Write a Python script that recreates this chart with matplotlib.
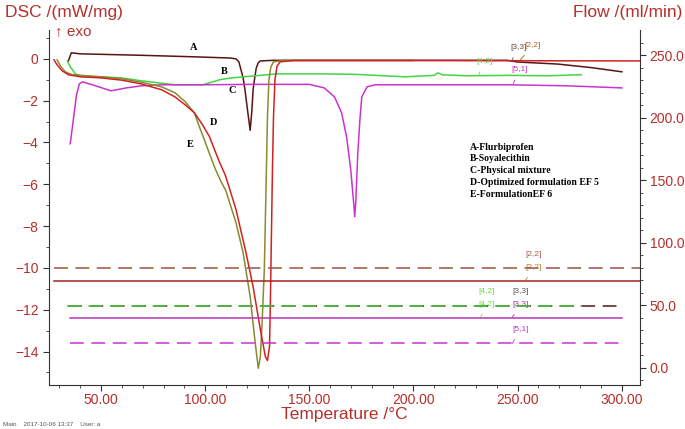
import matplotlib.pyplot as plt

plt.rcParams['font.family'] = ['Liberation Sans', 'DejaVu Sans']

# DSC curves (temperature in C, DSC in mW/mg)
a_t = [34.3, 35.7, 40.0, 69.4, 93.8, 112.0, 114.8, 116.2, 117.2, 118.2, 119.1, 120.4,
       121.6, 122.4, 123.0, 123.8, 124.5, 125.5, 126.5, 132.8, 245.0, 250.0, 269.4,
       285.5, 300.1]
a_dsc = [-0.10, 0.29, 0.24, 0.17, 0.10, 0.04, 0.00, -0.15, -0.53, -0.90, -1.48, -2.50,
         -3.42, -2.50, -1.48, -0.90, -0.45, -0.18, -0.10, -0.07, -0.07, -0.15, -0.25,
         -0.42, -0.62]

b_t = [33.8, 35.2, 37.7, 40.1, 59.6, 69.4, 85.5, 98.7, 103.0, 107.0, 112.0, 118.2,
       134.3, 155.7, 171.8, 196.0, 206.0, 209.9, 211.8, 213.8, 225.5, 245.0, 264.5, 280.6]
b_dsc = [-0.10, -0.38, -0.72, -0.81, -0.91, -1.05, -1.24, -1.24, -1.12, -1.00, -0.92, -0.86,
         -0.72, -0.72, -0.74, -0.86, -0.81, -0.79, -0.67, -0.76, -0.81, -0.79, -0.81, -0.76]

c_t = [35.2, 36.7, 38.2, 39.6, 41.1, 47.4, 54.8, 62.1, 69.4, 79.1, 98.7, 123.0,
       150.0, 157.2, 162.1, 165.5, 167.9, 169.9, 171.3, 171.8, 172.3, 173.3, 174.3,
       175.2, 177.7, 181.6, 196.2, 245.0, 274.3, 300.1]
c_dsc = [-4.06, -2.90, -1.72, -1.19, -1.10, -1.29, -1.53, -1.39, -1.29, -1.24, -1.24, -1.22,
         -1.22, -1.39, -1.82, -2.58, -3.73, -5.30, -6.88, -7.55, -6.88, -4.49, -2.91,
         -1.82, -1.34, -1.24, -1.24, -1.24, -1.29, -1.39]

d_t = [27.4, 28.9, 31.3, 34.3, 40.1, 49.9, 60.0, 69.4, 79.1, 85.5, 90.4, 94.8, 98.7,
       102.1, 104.5, 107.0, 109.6, 112.0, 114.8, 119.6, 123.0, 126.5, 128.9, 129.9,
       130.9, 131.3, 131.8, 132.3, 132.8, 133.5, 134.5, 136.0, 142.6, 196.0, 310.0]
d_dsc = [-0.05, -0.29, -0.57, -0.76, -0.86, -0.91, -1.02, -1.20, -1.48, -1.82, -2.20, -2.58,
         -3.15, -3.73, -4.35, -4.97, -5.55, -6.30, -7.21, -9.27, -10.89, -12.95, -14.24,
         -14.43, -13.76, -11.66, -8.50, -5.30, -2.80, -1.00, -0.35, -0.14, -0.08, -0.08, -0.10]

e_t = [28.9, 30.4, 32.8, 36.2, 49.9, 60.0, 69.4, 79.1, 85.5, 90.4, 94.8, 97.2, 99.6,
       102.6, 105.0, 107.5, 109.9, 114.8, 118.2, 121.6, 124.0, 125.5, 126.5, 127.4,
       128.4, 128.9, 129.4, 129.9, 130.6, 131.5, 132.8, 137.7, 200.0]
e_dsc = [-0.05, -0.33, -0.62, -0.76, -0.86, -0.95, -1.12, -1.34, -1.62, -2.05, -2.58, -3.25,
         -3.87, -4.68, -5.30, -5.85, -6.30, -7.84, -9.27, -11.37, -13.57, -14.80, -14.24,
         -12.47, -10.08, -7.69, -5.30, -2.80, -1.00, -0.40, -0.14, -0.08, -0.08]

# flow lines (ml/min): start T, end T, value
flow_brown = ([27.4, 310.0], [80.0, 80.0])
flow_olive = ([27.4, 310.0], [80.0, 80.0])
flow_red = ([27.4, 310.0], [69.5, 69.5])
flow_dark = ([34.3, 300.1], [49.5, 49.5])
flow_green = ([33.8, 280.6], [49.5, 49.5])
flow_mag = ([35.2, 300.1], [40.0, 40.0])
flow_mag2 = ([35.2, 300.1], [20.0, 20.0])

legend_lines = ['A-Flurbiprofen', 'B-Soyalecithin', 'C-Physical mixture',
                'D-Optimized formulation EF 5', 'E-FormulationEF 6']

red_txt = '#b5302c'
col_a = '#5a1414'
col_b = '#44d444'
col_c = '#cc33cc'
col_d = '#d02222'
col_e = '#8a8a30'

fig = plt.figure(figsize=(6.85, 4.29), dpi=100)
ax = fig.add_axes([49/685, 44/429, 591/685, 355/429])
ax2 = ax.twinx()

lw = 1.1
ax.plot(a_t, a_dsc, color=col_a, lw=lw, zorder=3)
ax.plot(b_t, b_dsc, color=col_b, lw=lw, zorder=3)
ax.plot(c_t, c_dsc, color=col_c, lw=lw, zorder=3)
ax.plot(e_t, e_dsc, color=col_e, lw=lw, zorder=3)
ax.plot(d_t, d_dsc, color=col_d, lw=lw, zorder=4)

ax2.plot(*flow_brown, color='#a0504a', lw=lw, linestyle=(0, (9, 5)))
ax2.plot(*flow_olive, color='#9a8a3a', lw=lw, linestyle=(7, (2, 12)))
ax2.plot(*flow_red, color='#a82020', lw=lw)
ax2.plot(*flow_dark, color=col_a, lw=lw, linestyle=(0, (9, 5)))
ax2.plot(*flow_green, color=col_b, lw=lw, linestyle=(0, (9, 5)))
ax2.plot(*flow_mag, color='#bb33bb', lw=lw)
ax2.plot(*flow_mag2, color=col_c, lw=lw, linestyle=(0, (9, 5)))

ax.set_xlim(25, 308.8)
ax.set_ylim(-15.6, 1.38)
ax2.set_ylim(-13.6, 270)

ax.set_xticks([50, 100, 150, 200, 250, 300])
ax.set_xticklabels(['50.00', '100.00', '150.00', '200.00', '250.00', '300.00'])
ax.set_xticks(range(30, 310, 10), minor=True)
ax.set_yticks([-14, -12, -10, -8, -6, -4, -2, 0])
ax.set_yticks(range(-15, 2), minor=True)
ax2.set_yticks([0, 50, 100, 150, 200, 250])
ax2.set_yticklabels(['0.0', '50.0', '100.0', '150.0', '200.0', '250.0'])
ax2.set_yticks(range(-10, 270, 10), minor=True)

for a in (ax, ax2):
    a.spines['top'].set_visible(False)
    for s in a.spines.values():
        s.set_color('#333333')
    a.tick_params(which='major', length=4, color='#333333', labelsize=10, labelcolor=red_txt)
    a.tick_params(which='minor', length=2.5, color='#333333')
ax.tick_params(axis='x', which='major', pad=1.5)
ax2.tick_params(axis='y', which='major', pad=3)
ax.spines['right'].set_visible(False)
ax2.spines['left'].set_visible(False)
ax2.spines['bottom'].set_visible(False)

ax.set_xlabel('Temperature /°C', color=red_txt, fontsize=12.5, labelpad=0.5)
fig.text(5/685, 1 - 13/429, 'DSC /(mW/mg)', color=red_txt, fontsize=12.5, va='center')
fig.text(682/685, 1 - 13/429, 'Flow /(ml/min)', color=red_txt, fontsize=12.5, va='center', ha='right')
fig.text(55/685, 1 - 31/429, '↑ exo', color=red_txt, fontsize=11, va='center')
fig.text(3/685, 1 - 424/429, 'Main    2017-10-06 13:37    User: a', color='#555555', fontsize=4.5, va='center')

# curve letters
serif = dict(family='Liberation Serif', fontweight='bold', fontsize=7.5, va='center', ha='center')
ax.text(94.5, 0.53, 'A', **serif)
ax.text(109, -0.62, 'B', **serif)
ax.text(113, -1.53, 'C', **serif)
ax.text(104, -3.06, 'D', **serif)
ax.text(93, -4.11, 'E', **serif)

for i, s in enumerate(legend_lines):
    fig.text(470/685, 1 - (147 + 11.8*i)/429, s, family='Liberation Serif',
             fontweight='bold', fontsize=7, va='center')

# bracket tags with leader lines
tag = dict(fontsize=6, va='center', ha='center')
def tagged(txt, color, xy, xyt):
    ax.annotate(txt, xy=xy, xytext=xyt, color=color, zorder=6,
                arrowprops=dict(arrowstyle='-', color=color, lw=0.6, shrinkA=3, shrinkB=0), **tag)

tagged('[3,3]', '#6a4a4a', (247.4, -0.05), (250.4, 0.53))
tagged('[2,2]', '#b06020', (251.3, -0.05), (257.2, 0.62))
tagged('[4,2]', '#66dd44', (231.3, -0.76), (234.3, -0.14))
tagged('[5,1]', col_c, (247.9, -1.20), (250.9, -0.53))

ax.text(257.7, -9.36, '[2,2]', color='#a0604a', **tag)
tagged('[2,2]', '#b08030', (253.8, -10.6), (257.7, -9.99))
ax.text(235.2, -11.13, '[4,2]', color='#66dd44', **tag)
tagged('[4,2]', '#66dd44', (232.2, -12.37), (235.2, -11.75))
ax.text(251.3, -11.13, '[3,3]', color='#555555', **tag)
tagged('[3,3]', '#aa33aa', (247.4, -12.37), (251.3, -11.75))
tagged('[5,1]', col_c, (247.4, -13.62), (251.3, -12.95))

fig.savefig('out.png', dpi=100)
